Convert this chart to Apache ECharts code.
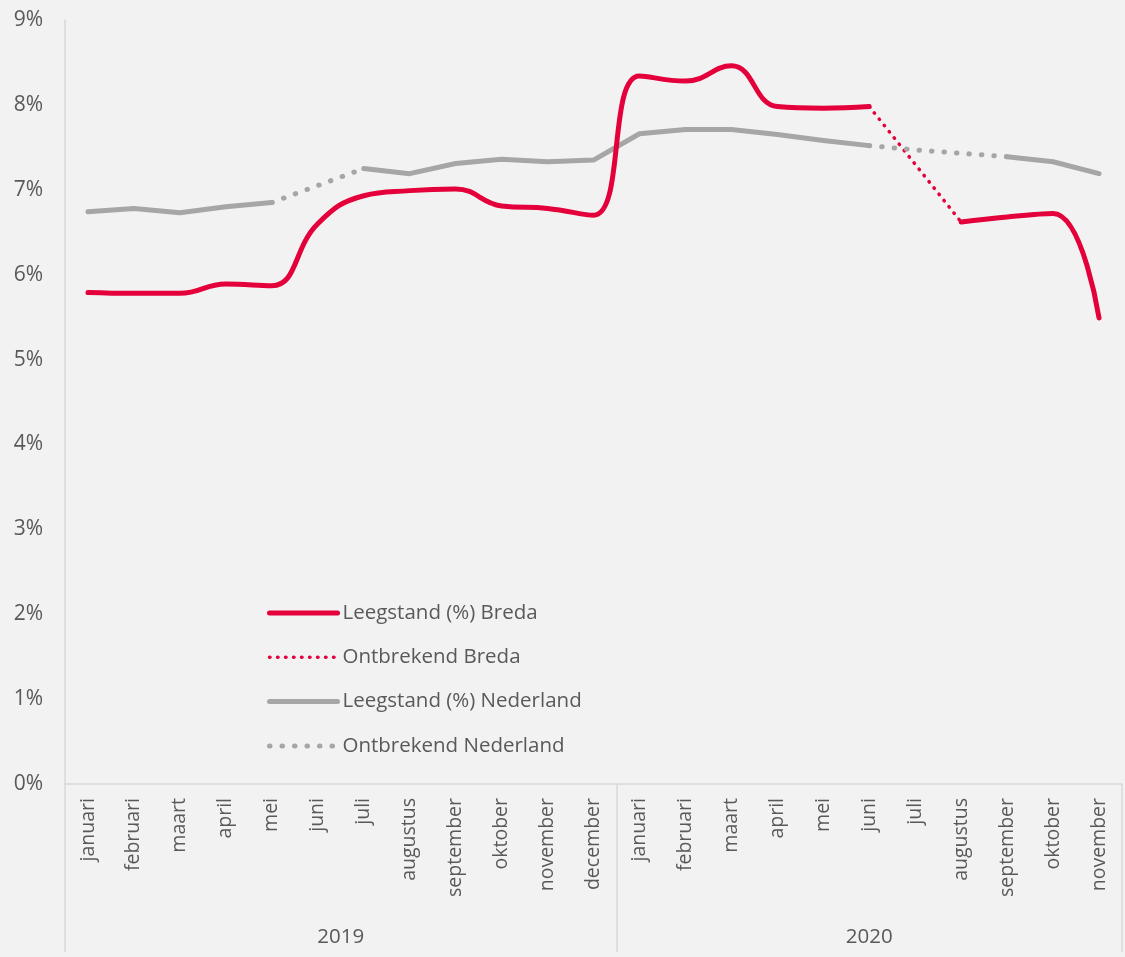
<!DOCTYPE html>
<html>
<head>
<meta charset="utf-8">
<script src="https://cdn.jsdelivr.net/npm/echarts@6/dist/echarts.min.js"></script>
<style>
html,body{margin:0;padding:0;background:#f2f2f2;}
#c{width:1125px;height:957px;}
</style>
</head>
<body>
<div id="c"></div>
<script>
const months = ['januari','februari','maart','april','mei','juni','juli','augustus','september','oktober','november','december',
  'januari','februari','maart','april','mei','juni','juli','augustus','september','oktober','november'];
const years = ['2019','2020'];
const yTicks = [0,1,2,3,4,5,6,7,8,9];

const bredaValues = [5.79,5.78,5.78,5.89,5.87,6.60,6.93,6.99,7.01,6.81,6.78,6.70,
  8.34,8.28,8.46,7.98,7.96,7.98,null,6.62,6.68,6.72,5.49];
const bredaMissing = [null,null,null,null,null,null,null,null,null,null,null,null,
  null,null,null,null,null,7.98,7.30,6.62,null,null,null];
const nlValues = [6.74,6.78,6.73,6.80,6.85,null,7.25,7.19,7.31,7.36,7.33,7.35,
  7.66,7.71,7.71,7.65,7.58,7.52,null,null,7.39,7.33,7.19];
const nlMissing = [null,null,null,null,6.85,7.05,7.25,null,null,null,null,null,
  null,null,null,null,null,7.52,7.47,7.43,7.39,null,null];

const RED = '#e4003a', GRAY = '#a6a6a6', TXT = '#595959', AX = '#d9d9d9';
const FONT = 'Open Sans';

const chart = echarts.init(document.getElementById('c'));
chart.setOption({
  backgroundColor: '#f2f2f2',
  animation: false,
  textStyle: {fontFamily: FONT},
  grid: {left: 65, right: 3, top: 20, bottom: 173, containLabel: false},
  legend: {
    orient: 'vertical', left: 262, top: 597,
    itemWidth: 68, itemHeight: 14, itemGap: 22.3,
    itemStyle: {opacity: 0},
    lineStyle: {width: 'inherit'},
    textStyle: {color: TXT, fontSize: 20.5, fontFamily: FONT, lineHeight: 22},
    data: ['Leegstand (%) Breda','Ontbrekend Breda','Leegstand (%) Nederland','Ontbrekend Nederland']
  },
  xAxis: [{
    type: 'category', data: months, boundaryGap: true, position: 'bottom',
    axisLine: {show: true, lineStyle: {color: AX, width: 1.5}},
    axisTick: {show: false},
    axisLabel: {interval: 0, rotate: 90, color: TXT, fontSize: 19.5, fontFamily: FONT, margin: 14}
  }, {
    type: 'value', min: 0, max: months.length, position: 'bottom',
    axisLine: {show: false},
    splitLine: {show: false},
    axisTick: {show: true, customValues: [0, 12, 23], length: 168, lineStyle: {color: AX, width: 1.5}},
    axisLabel: {show: true, customValues: [6, 17.5], color: TXT, fontSize: 20.5, fontFamily: FONT, margin: 143,
      formatter: v => v < 12 ? years[0] : years[1]}
  }],
  yAxis: {
    type: 'value', min: 0, max: 9, interval: 1,
    axisLine: {show: true, lineStyle: {color: AX, width: 1.5}},
    axisTick: {show: false},
    splitLine: {show: false},
    axisLabel: {color: TXT, fontSize: 21, fontFamily: FONT, margin: 22, formatter: v => yTicks.includes(v) ? v + '%' : ''}
  },
  series: [{
    name: 'Leegstand (%) Breda', type: 'line', data: bredaValues, smooth: 0.45, symbol: 'none', z: 5,
    connectNulls: false, itemStyle: {color: RED},
    lineStyle: {color: RED, width: 5, cap: 'round', join: 'round'}
  }, {
    name: 'Ontbrekend Breda', type: 'line', data: bredaMissing, symbol: 'none', z: 4,
    itemStyle: {color: RED},
    lineStyle: {color: RED, width: 3.5, type: [0.5, 7.5], cap: 'round'}
  }, {
    name: 'Leegstand (%) Nederland', type: 'line', data: nlValues, symbol: 'none', z: 3,
    itemStyle: {color: GRAY},
    lineStyle: {color: GRAY, width: 5, cap: 'round', join: 'round'}
  }, {
    name: 'Ontbrekend Nederland', type: 'line', data: nlMissing, symbol: 'none', z: 4,
    itemStyle: {color: GRAY},
    lineStyle: {color: GRAY, width: 5, type: [0.5, 12], cap: 'round'}
  }]
});
</script>
</body>
</html>
